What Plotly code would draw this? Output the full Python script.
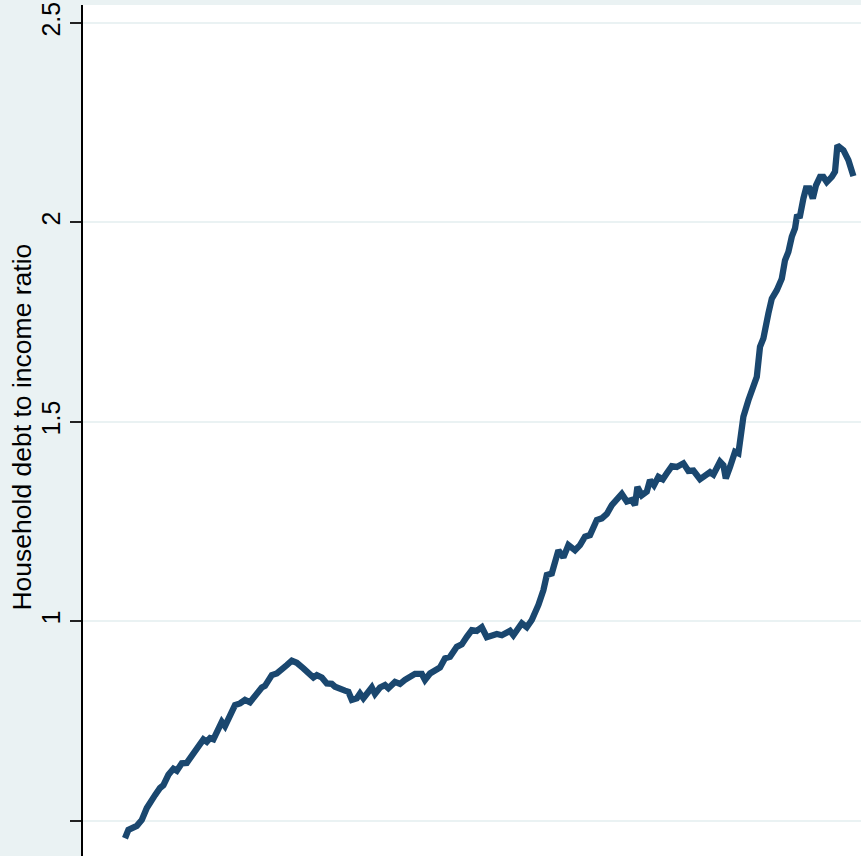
import plotly.graph_objects as go

# Time (decimal years) and household debt-to-income ratio
years = [
    1980.00, 1980.17, 1980.59, 1980.84, 1981.09, 1981.34, 1981.50, 1981.75, 1981.92, 1982.17,
    1982.42, 1982.59, 1982.84, 1983.09, 1983.34, 1983.67, 1983.92, 1984.09, 1984.25, 1984.42,
    1984.59, 1984.84, 1985.00, 1985.25, 1985.50, 1985.75, 1986.00, 1986.25, 1986.59, 1986.84,
    1987.00, 1987.34, 1987.59, 1987.92, 1988.09, 1988.34, 1988.59, 1988.92, 1989.17, 1989.42,
    1989.59, 1989.84, 1990.09, 1990.34, 1990.50, 1990.75, 1991.00, 1991.17, 1991.34, 1991.59,
    1991.75, 1991.92, 1992.34, 1992.50, 1992.75, 1993.00, 1993.17, 1993.50, 1993.75, 1994.00,
    1994.25, 1994.50, 1994.84, 1995.00, 1995.25, 1995.50, 1995.75, 1996.00, 1996.25, 1996.59,
    1996.84, 1997.09, 1997.34, 1997.59, 1997.84, 1998.09, 1998.34, 1998.59, 1998.84, 1999.09,
    1999.25, 1999.42, 1999.84, 2000.09, 2000.34, 2000.67, 2000.92, 2001.09, 2001.34, 2001.67,
    2001.92, 2002.17, 2002.50, 2002.75, 2003.00, 2003.25, 2003.59, 2003.84, 2004.09, 2004.34,
    2004.59, 2004.84, 2005.09, 2005.34, 2005.50, 2005.62, 2005.84, 2006.09, 2006.25, 2006.45,
    2006.67, 2006.89, 2007.09, 2007.34, 2007.59, 2007.92, 2008.17, 2008.42, 2008.75, 2009.00,
    2009.25, 2009.42, 2009.75, 2009.92, 2010.04, 2010.25, 2010.50, 2010.67, 2010.92, 2011.17,
    2011.42, 2011.59, 2011.75, 2011.92, 2012.17, 2012.34, 2012.59, 2012.84, 2013.00, 2013.17,
    2013.34, 2013.50, 2013.59, 2013.75, 2013.92, 2014.05, 2014.22, 2014.39, 2014.55, 2014.75,
    2014.92, 2015.09, 2015.34, 2015.50, 2015.62, 2015.79, 2015.92, 2016.17, 2016.42,
]

debt_ratio = [
    0.456, 0.477, 0.487, 0.502, 0.532, 0.548, 0.564, 0.582, 0.589, 0.615,
    0.630, 0.625, 0.644, 0.645, 0.662, 0.690, 0.704, 0.698, 0.707, 0.704,
    0.719, 0.748, 0.737, 0.765, 0.790, 0.794, 0.803, 0.797, 0.821, 0.834,
    0.838, 0.865, 0.869, 0.886, 0.890, 0.901, 0.896, 0.882, 0.869, 0.859,
    0.865, 0.859, 0.844, 0.843, 0.836, 0.829, 0.826, 0.823, 0.803, 0.807,
    0.819, 0.807, 0.834, 0.818, 0.834, 0.840, 0.832, 0.848, 0.843, 0.853,
    0.859, 0.868, 0.868, 0.853, 0.869, 0.879, 0.884, 0.907, 0.911, 0.936,
    0.942, 0.961, 0.978, 0.976, 0.985, 0.960, 0.963, 0.968, 0.965, 0.970,
    0.976, 0.965, 0.995, 0.985, 1.003, 1.041, 1.078, 1.116, 1.120, 1.178,
    1.160, 1.191, 1.178, 1.191, 1.212, 1.216, 1.254, 1.258, 1.269, 1.291,
    1.304, 1.319, 1.300, 1.304, 1.291, 1.337, 1.316, 1.325, 1.354, 1.341,
    1.362, 1.356, 1.371, 1.389, 1.387, 1.396, 1.377, 1.378, 1.356, 1.366,
    1.374, 1.368, 1.400, 1.391, 1.358, 1.387, 1.425, 1.421, 1.513, 1.554,
    1.584, 1.613, 1.688, 1.709, 1.772, 1.809, 1.830, 1.859, 1.905, 1.926,
    1.964, 1.985, 2.014, 2.016, 2.060, 2.085, 2.085, 2.060, 2.093, 2.114,
    2.114, 2.101, 2.114, 2.127, 2.193, 2.185, 2.181, 2.156, 2.116,
]

y_tick_vals = [0.5, 1, 1.5, 2, 2.5]
y_tick_text = ["", "1", "1.5", "2", "2.5"]
y_title = "Household debt to income ratio"

FONT = "Liberation Sans, Arial, Helvetica, sans-serif"
NAVY = "#1a476f"
BG = "#eaf2f3"

fig = go.Figure()
fig.add_trace(go.Scatter(
    x=years, y=debt_ratio, mode="lines",
    line=dict(color=NAVY, width=6.3),
    hoverinfo="skip", showlegend=False,
))

fig.update_layout(
    width=861, height=856,
    margin=dict(l=83, r=0, t=5, b=0, pad=0, autoexpand=False),
    paper_bgcolor=BG,
    plot_bgcolor="white",
    font=dict(family=FONT, size=25, color="black"),
    xaxis=dict(visible=False, range=[1977.9, 2016.8], automargin=False),
    yaxis=dict(
        range=[0.4115, 2.545],
        automargin=False,
        tickmode="array", tickvals=y_tick_vals, ticktext=y_tick_text,
        tickangle=-90,
        ticks="outside", ticklen=11, tickwidth=1.5, tickcolor="#222222",
        showline=True, linecolor="black", linewidth=1.5,
        showgrid=True, gridcolor=BG, gridwidth=1.5,
        zeroline=False,
        tickfont=dict(family=FONT, size=25, color="black"),
    ),
    annotations=[dict(
        text=y_title, xref="paper", yref="paper",
        x=0, y=0.5035, xanchor="center", yanchor="middle",
        xshift=-61, textangle=-90, showarrow=False,
        font=dict(family=FONT, size=26.5, color="black"),
    )],
)

fig.write_html(
    "out.html",
    config={"displayModeBar": False},
    post_script="document.body.style.margin='0';document.body.style.padding='0';"
                "document.body.style.overflow='hidden';",
)
